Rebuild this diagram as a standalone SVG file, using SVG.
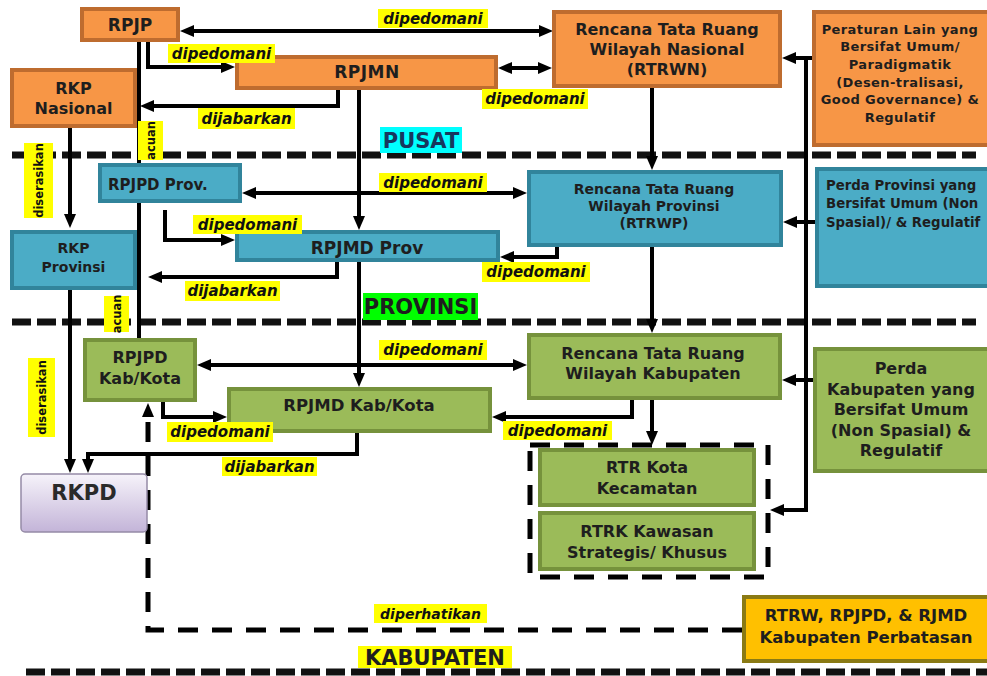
<svg xmlns="http://www.w3.org/2000/svg" width="987" height="676" viewBox="0 0 987 676">
<defs>
<marker id="ah" viewBox="0 0 14 12" refX="8" refY="6" markerWidth="14" markerHeight="12" markerUnits="userSpaceOnUse" orient="auto-start-reverse"><path d="M0,0 L14,6 L0,12 z" fill="#000"/></marker>
<linearGradient id="lav" x1="0" y1="0" x2="0" y2="1"><stop offset="0" stop-color="#F6F3FA"/><stop offset="1" stop-color="#C3B4D8"/></linearGradient>
<style>
.sep{fill:none;stroke:#111;stroke-width:7;stroke-dasharray:19 6}
.c{fill:none;stroke:#000;stroke-width:4}
.a{marker-end:url(#ah)}
.b{marker-start:url(#ah);marker-end:url(#ah)}
.dash{fill:none;stroke:#000;stroke-width:5;stroke-dasharray:20 14}
.or{fill:#F79646;stroke:#BE6C2F;stroke-width:4}
.bl{fill:#4BACC6;stroke:#31849B;stroke-width:4}
.gr{fill:#9BBB59;stroke:#76923C;stroke-width:4}
.go{fill:#FFC000;stroke:#8A7A14;stroke-width:4}
text{font-family:"DejaVu Sans",Verdana,sans-serif;font-weight:bold;fill:#1E1E1E;text-anchor:middle;dominant-baseline:central}
.lbl rect{fill:#FFFF00}
.lbl text{font-style:italic;font-size:15px;fill:#111}
.vl rect{fill:#FFFF00}
.vl text{font-size:11.5px;fill:#111}
.sec text{font-size:21px}
</style>
</defs>

<g id="separators">
<line class="sep" x1="12" y1="155" x2="976" y2="155"/>
<line class="sep" x1="12" y1="322" x2="976" y2="322"/>
<line class="sep" x1="26" y1="672" x2="987" y2="672"/>
</g>

<g id="connectors">
<path class="c b" d="M186,31 H547"/>
<path class="c a" d="M148,42 V67 H229"/>
<path class="c b" d="M504,68 H546"/>
<path class="c" d="M139,42 V338"/>
<path class="c a" d="M338,90 V106 H146"/>
<path class="c a" d="M70,128 V222"/>
<path class="c a" d="M359,90 V224"/>
<path class="c a" d="M652,88 V164"/>
<path class="c a" d="M812,58 H788"/>
<path class="c a" d="M806,58 V510 H776"/>
<path class="c a" d="M815,222 H789"/>
<path class="c a" d="M813,380 H788"/>
<path class="c b" d="M248,193 H521"/>
<path class="c a" d="M165,210 V240 H229"/>
<path class="c a" d="M337,260 V277 H154"/>
<path class="c a" d="M557,247 V257 H506"/>
<path class="c a" d="M70,290 V467"/>
<path class="c a" d="M359,260 V381"/>
<path class="c a" d="M652,247 V327"/>
<path class="c b" d="M203,365 H521"/>
<path class="c a" d="M163,402 V417 H221"/>
<path class="c a" d="M357,433 V454 H88 V467"/>
<path class="c a" d="M632,400 V417 H498"/>
<path class="c a" d="M652,400 V439"/>
<path class="dash a" d="M742,630 H148 V409"/>
<rect class="dash" x="530" y="445" width="238" height="132"/>
</g>

<g id="rpjp"><rect class="or" x="82" y="9" width="96" height="31"/><text x="130" y="25" font-size="17">RPJP</text></g>
<g id="rkp-nasional"><rect class="or" x="12" y="70" width="123" height="56"/><text x="73.5" y="88" font-size="16">RKP</text><text x="73.5" y="108" font-size="16">Nasional</text></g>
<g id="rpjmn"><rect class="or" x="237" y="57" width="259" height="31"/><text x="367" y="72" font-size="17" letter-spacing="0.5">RPJMN</text></g>
<g id="rtrwn"><rect class="or" x="554" y="12" width="226" height="74"/><text x="667" y="29" font-size="16">Rencana Tata Ruang</text><text x="667" y="49" font-size="16">Wilayah Nasional</text><text x="667" y="69" font-size="16">(RTRWN)</text></g>
<g id="peraturan-lain"><rect class="or" x="814" y="12" width="180" height="133"/>
<text x="900" y="29" font-size="13" letter-spacing="0.4">Peraturan Lain yang</text>
<text x="900" y="46" font-size="13" letter-spacing="0.4">Bersifat Umum/</text>
<text x="900" y="64" font-size="13" letter-spacing="0.4">Paradigmatik</text>
<text x="900" y="82" font-size="13" letter-spacing="0.4">(Desen-tralisasi,</text>
<text x="900" y="99" font-size="13" letter-spacing="0.4">Good Governance) &amp;</text>
<text x="900" y="117" font-size="13" letter-spacing="0.4">Regulatif</text></g>

<g id="rpjpd-prov"><rect class="bl" x="100" y="165" width="140" height="36"/><text x="108" y="185" font-size="15" style="text-anchor:start">RPJPD Prov.</text></g>
<g id="rkp-provinsi"><rect class="bl" x="12" y="232" width="123" height="56"/><text x="73.5" y="248" font-size="14">RKP</text><text x="73.5" y="267" font-size="14">Provinsi</text></g>
<g id="rpjmd-prov"><rect class="bl" x="237" y="232" width="261" height="28"/><text x="367" y="248" font-size="17">RPJMD Prov</text></g>
<g id="rtrwp"><rect class="bl" x="529" y="172" width="252" height="73"/><text x="654" y="189" font-size="14">Rencana Tata Ruang</text><text x="654" y="206" font-size="14">Wilayah Provinsi</text><text x="654" y="223" font-size="14">(RTRWP)</text></g>
<g id="perda-provinsi"><rect class="bl" x="817" y="169" width="180" height="117"/>
<text x="826" y="185" font-size="13.3" style="text-anchor:start">Perda Provinsi yang</text>
<text x="826" y="203" font-size="13.3" style="text-anchor:start">Bersifat Umum (Non</text>
<text x="826" y="222" font-size="13.3" style="text-anchor:start">Spasial)/ &amp; Regulatif</text></g>

<g id="rpjpd-kab"><rect class="gr" x="85" y="340" width="110" height="60"/><text x="140" y="357" font-size="16">RPJPD</text><text x="140" y="378" font-size="16">Kab/Kota</text></g>
<g id="rpjmd-kab"><rect class="gr" x="229" y="389" width="261" height="42"/><text x="359" y="405" font-size="16.5">RPJMD Kab/Kota</text></g>
<g id="rtrw-kabupaten"><rect class="gr" x="529" y="335" width="251" height="63"/><text x="653" y="353" font-size="16">Rencana Tata Ruang</text><text x="653" y="373" font-size="16">Wilayah Kabupaten</text></g>
<g id="perda-kabupaten"><rect class="gr" x="815" y="349" width="180" height="122"/>
<text x="901" y="368" font-size="16">Perda</text>
<text x="901" y="389" font-size="16">Kabupaten yang</text>
<text x="901" y="409" font-size="16">Bersifat Umum</text>
<text x="901" y="430" font-size="16">(Non Spasial) &amp;</text>
<text x="901" y="450" font-size="16">Regulatif</text></g>
<g id="rtr-kota"><rect class="gr" x="540" y="450" width="214" height="55"/><text x="647" y="467" font-size="16">RTR Kota</text><text x="647" y="488" font-size="16">Kecamatan</text></g>
<g id="rtrk-kawasan"><rect class="gr" x="540" y="513" width="214" height="56"/><text x="647" y="531" font-size="16">RTRK Kawasan</text><text x="647" y="552" font-size="16">Strategis/ Khusus</text></g>
<g id="rkpd"><rect x="21" y="474" width="126" height="58" rx="4" fill="url(#lav)" stroke="#958BA6" stroke-width="1.5"/><text x="84" y="493" font-size="21" style="fill:#2A2A2A">RKPD</text></g>
<g id="perbatasan"><rect class="go" x="744" y="597" width="250" height="64"/><text x="866" y="615" font-size="16.5">RTRW, RPJPD, &amp; RJMD</text><text x="866" y="637" font-size="16.5">Kabupaten Perbatasan</text></g>

<g id="edge-labels">
<g class="lbl"><rect x="378" y="9" width="110" height="19"/><text x="433" y="18.5">dipedomani</text></g>
<g class="lbl"><rect x="168" y="44" width="107" height="19"/><text x="221.5" y="53.5">dipedomani</text></g>
<g class="lbl"><rect x="482" y="89" width="106" height="20"/><text x="535" y="99">dipedomani</text></g>
<g class="lbl"><rect x="379" y="173" width="108" height="19"/><text x="433" y="182.5">dipedomani</text></g>
<g class="lbl"><rect x="193" y="215" width="109" height="19"/><text x="247.5" y="224.5">dipedomani</text></g>
<g class="lbl"><rect x="482" y="262" width="108" height="20"/><text x="536" y="272">dipedomani</text></g>
<g class="lbl"><rect x="379" y="340" width="108" height="20"/><text x="433" y="350">dipedomani</text></g>
<g class="lbl"><rect x="167" y="422" width="106" height="20"/><text x="220" y="432">dipedomani</text></g>
<g class="lbl"><rect x="503" y="421" width="109" height="19"/><text x="557.5" y="430.5">dipedomani</text></g>
<g class="lbl"><rect x="198" y="108" width="97" height="21"/><text x="246.5" y="118.5">dijabarkan</text></g>
<g class="lbl"><rect x="185" y="281" width="95" height="20"/><text x="232.5" y="291">dijabarkan</text></g>
<g class="lbl"><rect x="222" y="457" width="95" height="19"/><text x="269.5" y="466.5">dijabarkan</text></g>
<g class="lbl"><rect x="374" y="604" width="113" height="19"/><text x="430.5" y="613.5" style="font-size:14px">diperhatikan</text></g>
<g class="vl"><rect x="138" y="121" width="25" height="39"/><text transform="translate(150.5,140.5) rotate(-90)">acuan</text></g>
<g class="vl"><rect x="104" y="296" width="25" height="36"/><text transform="translate(116.5,314) rotate(-90)">acuan</text></g>
<g class="vl"><rect x="24" y="143" width="29" height="75"/><text transform="translate(38.5,180.5) rotate(-90)">diserasikan</text></g>
<g class="vl"><rect x="28" y="358" width="27" height="79"/><text transform="translate(41.5,397.5) rotate(-90)">diserasikan</text></g>
</g>

<g id="section-labels" class="sec">
<rect x="380" y="127" width="82" height="26" fill="#00FFFF"/><text x="421" y="140.5" style="fill:#17375E">PUSAT</text>
<rect x="363" y="293" width="115" height="27" fill="#00FF00"/><text x="420.5" y="307">PROVINSI</text>
<rect x="358" y="646" width="154" height="22" fill="#FFFF00"/><text x="435" y="657.5">KABUPATEN</text>
</g>
</svg>
